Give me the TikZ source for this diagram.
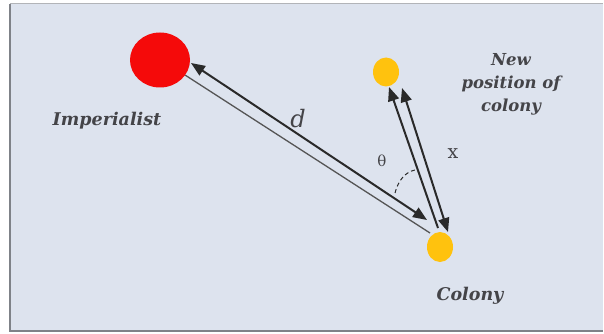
\documentclass[tikz,border=0pt]{standalone}
\usepackage{fontspec}
\setmainfont{DejaVu Serif}
\usetikzlibrary{arrows.meta,calc,shapes.geometric}
\definecolor{bgc}{HTML}{DDE3EE}
\definecolor{framec}{HTML}{7F8288}
\definecolor{inkc}{HTML}{2A2A2A}
\definecolor{txtc}{HTML}{444448}
\definecolor{impc}{HTML}{F50A0A}
\definecolor{colc}{HTML}{FFC20E}
\tikzset{
  dot/.style={ellipse, inner sep=0pt, draw=none},
  lbl/.style={text=txtc, font=\fontsize{17.5}{19}\selectfont\bfseries\itshape, inner sep=0pt},
  mainarrow/.style={draw=inkc, line width=2pt, -{Triangle[length=14pt,width=11pt]}},
  bothways/.style={draw=inkc, line width=2pt, {Triangle[length=14pt,width=11pt]}-{Triangle[length=14pt,width=11pt]}},
  plainline/.style={draw=inkc!80, line width=1.3pt},
}
\begin{document}
\begin{tikzpicture}[x=1pt,y=-1pt]
\useasboundingbox (0,0) rectangle (604,334);
\fill[white] (0,0) rectangle (604,334);
\fill[bgc] (10,4) rectangle (603,331);
\draw[framec, line width=2pt] (10,4) -- (10,331) -- (603,331);
\draw[framec!60, line width=1pt] (10,4) -- (603,4);
% nodes
\node[dot, fill=impc, minimum width=60pt, minimum height=55pt] (imp) at (160,60) {};
\node[dot, fill=colc, minimum width=26pt, minimum height=29pt] (newpos) at (386,72) {};
\node[dot, fill=colc, minimum width=26pt, minimum height=30pt] (colony) at (440,247) {};
% labels
\node[lbl] (limp) at (107,121) {Imperialist};
\node[lbl] (lcol) at (470,296) {Colony};
\node[lbl, align=center, font=\fontsize{16.5}{23}\selectfont\bfseries\itshape] (lnew) at (511,84) {New\\position of\\colony};
\node[lbl, font=\fontsize{24}{26}\selectfont\itshape] (ld) at (298,119) {d};
\node[lbl, font=\fontsize{15}{16}\selectfont] (lth) at (382,161) {θ};
\node[lbl, font=\fontsize{19}{20}\selectfont] (lx) at (453,154) {x};
% connectors
\coordinate (dA) at ([shift={(31,3)}]imp.center);
\coordinate (dB) at ([shift={(-13,-27)}]colony.center);
\draw[bothways] (dB) -- (dA);
\draw[plainline] (imp.-31) -- ([shift={(-10,-14)}]colony.center);
\coordinate (xA) at ([shift={(3,15)}]newpos.center);
\coordinate (xB) at ([shift={(-2,-19)}]colony.center);
\draw[mainarrow] (xB) -- (xA);
\coordinate (xC) at ([shift={(16,16)}]newpos.center);
\coordinate (xD) at ([shift={(8,-15)}]colony.center);
\draw[bothways] (xC) -- (xD);
% angle arc
\draw[inkc, line width=1pt, dash pattern=on 4pt off 3pt] ([shift={(-45,-54)}]colony.center) .. controls ([shift={(-42,-66)}]colony.center) and ([shift={(-35,-75)}]colony.center) .. ([shift={(-25,-77)}]colony.center);
\end{tikzpicture}
\end{document}
